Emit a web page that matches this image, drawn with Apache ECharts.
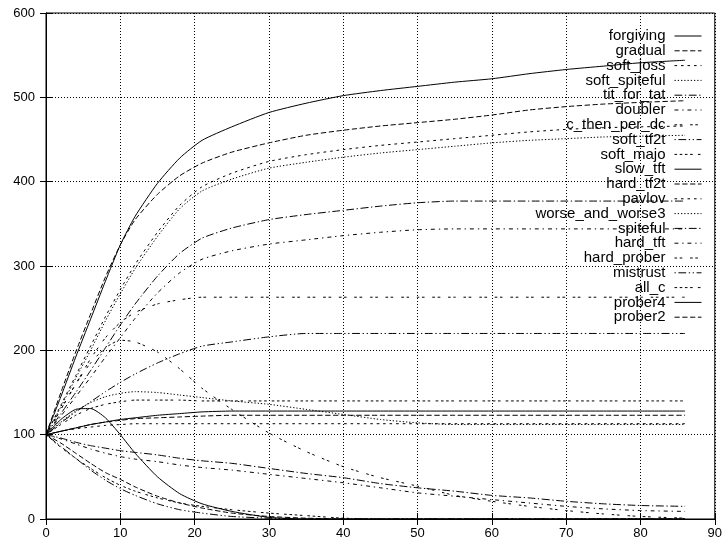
<!DOCTYPE html>
<html>
<head>
<meta charset="utf-8">
<script src="https://cdn.jsdelivr.net/npm/echarts@6/dist/echarts.min.js"></script>
<style>
html,body{margin:0;padding:0;background:#fff;}
#chart{width:725px;height:546px;}
</style>
</head>
<body>
<div id="chart"></div>
<script>
// generations (x positions of the sampled values)
const xs = [0,2,4,6,8,10,12,15,18,21,25,30,35,40,45,50,55,60,65,70,75,80,86];

const forgiving       = [100,145,192,237,282,325,359,398,428,449,465,482,493,502,508,513,518,522,528,533,537,541,544];
const gradual         = [100,150,198,243,287,325,355,385,407,422,435,446,455,461,466,470,474,479,485,489,492,494,496];
const soft_joss       = [100,135,170,205,240,272,302,340,372,394,410,424,432,438,443,447,451,455,459,462,464,465,466];
const soft_spiteful   = [100,133,167,200,235,267,297,335,368,389,403,416,423,429,434,438,442,446,449,451,453,454,455];
const tit_for_tat     = [100,125,150,176,203,230,255,288,315,333,345,355,361,366,371,375,377,377,377,377,377,377,377];
const doubler         = [100,122,145,168,192,215,238,268,292,308,318,326,331,336,340,343,344,344,344,344,344,344,344];
const c_then_per_dc   = [100,130,160,190,215,233,245,255,260,263,263,263,263,263,263,263,263,263,263,263,263,263,263];
const soft_tf2t       = [100,114,127,139,151,162,172,185,196,205,210,216,220,220,220,220,220,220,220,220,220,220,220];
const soft_majo       = [100,112,123,131,136,139,141,141,141,140,140,140,140,140,140,140,140,140,140,140,140,140,140];
const slow_tft        = [100,104,108,112,115,118,120,123,125,127,128,128,128,128,128,128,128,128,128,128,128,128,128];
const hard_tf2t       = [100,104,108,112,115,117,119,120,121,122,123,123,123,123,123,123,123,123,123,123,123,123,123];
const pavlov          = [100,104,107,109,111,112,113,113,113,113,113,113,113,113,113,113,113,113,113,113,113,113,113];
const worse_and_worse3= [100,115,128,138,145,149,151,150,147,144,140,136,130,124,118,114,112,112,112,112,112,112,112];
const spiteful        = [100,96,91,87,84,81,79,76,72,69,66,60,54,49,42,37,33,28,25,21,18,16,15];
const hard_tft        = [100,95,89,83,78,74,71,68,64,61,58,53,48,43,37,31,27,23,19,15,12,10,9];
const hard_prober     = [100,130,160,185,203,212,210,198,178,155,130,102,80,62,49,39,28,21,15,10,6,3,1];
const mistrust        = [100,86,72,58,46,36,28,18,11,7,3,1,0,0,0,0,0,0,0,0,0,0,0];
const all_c           = [100,85,72,60,49,40,33,25,19,15,11,7,4,1,0,0,0,0,0,0,0,0,0];
const prober4         = [100,118,130,131,120,100,78,50,30,18,9,2,0,0,0,0,0,0,0,0,0,0,0];
const prober2         = [100,90,78,66,55,47,38,27,19,13,7,3,1,0,0,0,0,0,0,0,0,0,0];

const names = ['forgiving','gradual','soft_joss','soft_spiteful','tit_for_tat','doubler',
  'c_then_per_dc','soft_tf2t','soft_majo','slow_tft','hard_tf2t','pavlov','worse_and_worse3',
  'spiteful','hard_tft','hard_prober','mistrust','all_c','prober4','prober2'];
const values = [forgiving,gradual,soft_joss,soft_spiteful,tit_for_tat,doubler,c_then_per_dc,
  soft_tf2t,soft_majo,slow_tft,hard_tf2t,pavlov,worse_and_worse3,spiteful,hard_tft,hard_prober,
  mistrust,all_c,prober4,prober2];

// gnuplot-like dash patterns (cycle of 9)
const k = 1.3;
const dashes = [
  'solid',
  [4*k,2*k],
  [2*k,3*k],
  [1*k,1.5*k],
  [6*k,2*k,1*k,2*k],
  [3*k,3*k,1*k,3*k],
  [2*k,2*k,2*k,6*k],
  [1*k,2*k,6*k,2*k,1*k,2*k],
  [2*k,2*k,2*k,2*k,2*k,2*k,2*k,4*k]
];

const FONT = '"Liberation Sans", Arial, Helvetica, sans-serif';

const series = names.map((n,i)=>({
  name:n, type:'line', symbol:'none', smooth:0.2,
  data: xs.map((x,j)=>[x, values[i][j]]),
  lineStyle:{color:'#000', width:1, type: dashes[i%9]},
  itemStyle:{color:'#000'},
  emphasis:{disabled:true}
}));

const legends = names.map((n,i)=>({
  data:[n], right:23, top: 35.5 + 14.8*i - 7, orient:'horizontal', align:'right',
  itemWidth:27, itemHeight:14, padding:0, itemGap:0,
  itemStyle:{opacity:0},
  lineStyle:{width:1},
  textStyle:{fontFamily:FONT, fontSize:15, color:'#000', padding:[0,4,0,0]},
  selectedMode:false
}));

const chart = echarts.init(document.getElementById('chart'), null, {renderer:'canvas'});
chart.setOption({
  animation:false,
  backgroundColor:'#fff',
  grid:{left:46, right:10, top:13, bottom:27, show:true, borderColor:'#000', borderWidth:1},
  legend: legends,
  xAxis:[
    {type:'value', min:0, max:90, interval:10,
     axisLine:{show:true, lineStyle:{color:'#000'}},
     axisTick:{show:true, inside:true, length:6, lineStyle:{color:'#000'}},
     axisLabel:{fontFamily:FONT, fontSize:13, color:'#000', margin:8},
     splitLine:{show:true, lineStyle:{color:'#000', type:[1,2], width:1}}},
    {type:'value', min:0, max:90, interval:10, position:'top',
     axisLine:{show:true, lineStyle:{color:'#000'}},
     axisTick:{show:true, inside:true, length:6, lineStyle:{color:'#000'}},
     axisLabel:{show:false}, splitLine:{show:false}}
  ],
  yAxis:[
    {type:'value', min:0, max:600, interval:100,
     axisLine:{show:true, lineStyle:{color:'#000'}},
     axisTick:{show:true, inside:true, length:6, lineStyle:{color:'#000'}},
     axisLabel:{fontFamily:FONT, fontSize:13, color:'#000', margin:11},
     splitLine:{show:true, lineStyle:{color:'#000', type:[1,2], width:1}}},
    {type:'value', min:0, max:600, interval:100, position:'right',
     axisLine:{show:true, lineStyle:{color:'#000'}},
     axisTick:{show:true, inside:true, length:6, lineStyle:{color:'#000'}},
     axisLabel:{show:false}, splitLine:{show:false}}
  ],
  series: series
});
</script>
</body>
</html>
